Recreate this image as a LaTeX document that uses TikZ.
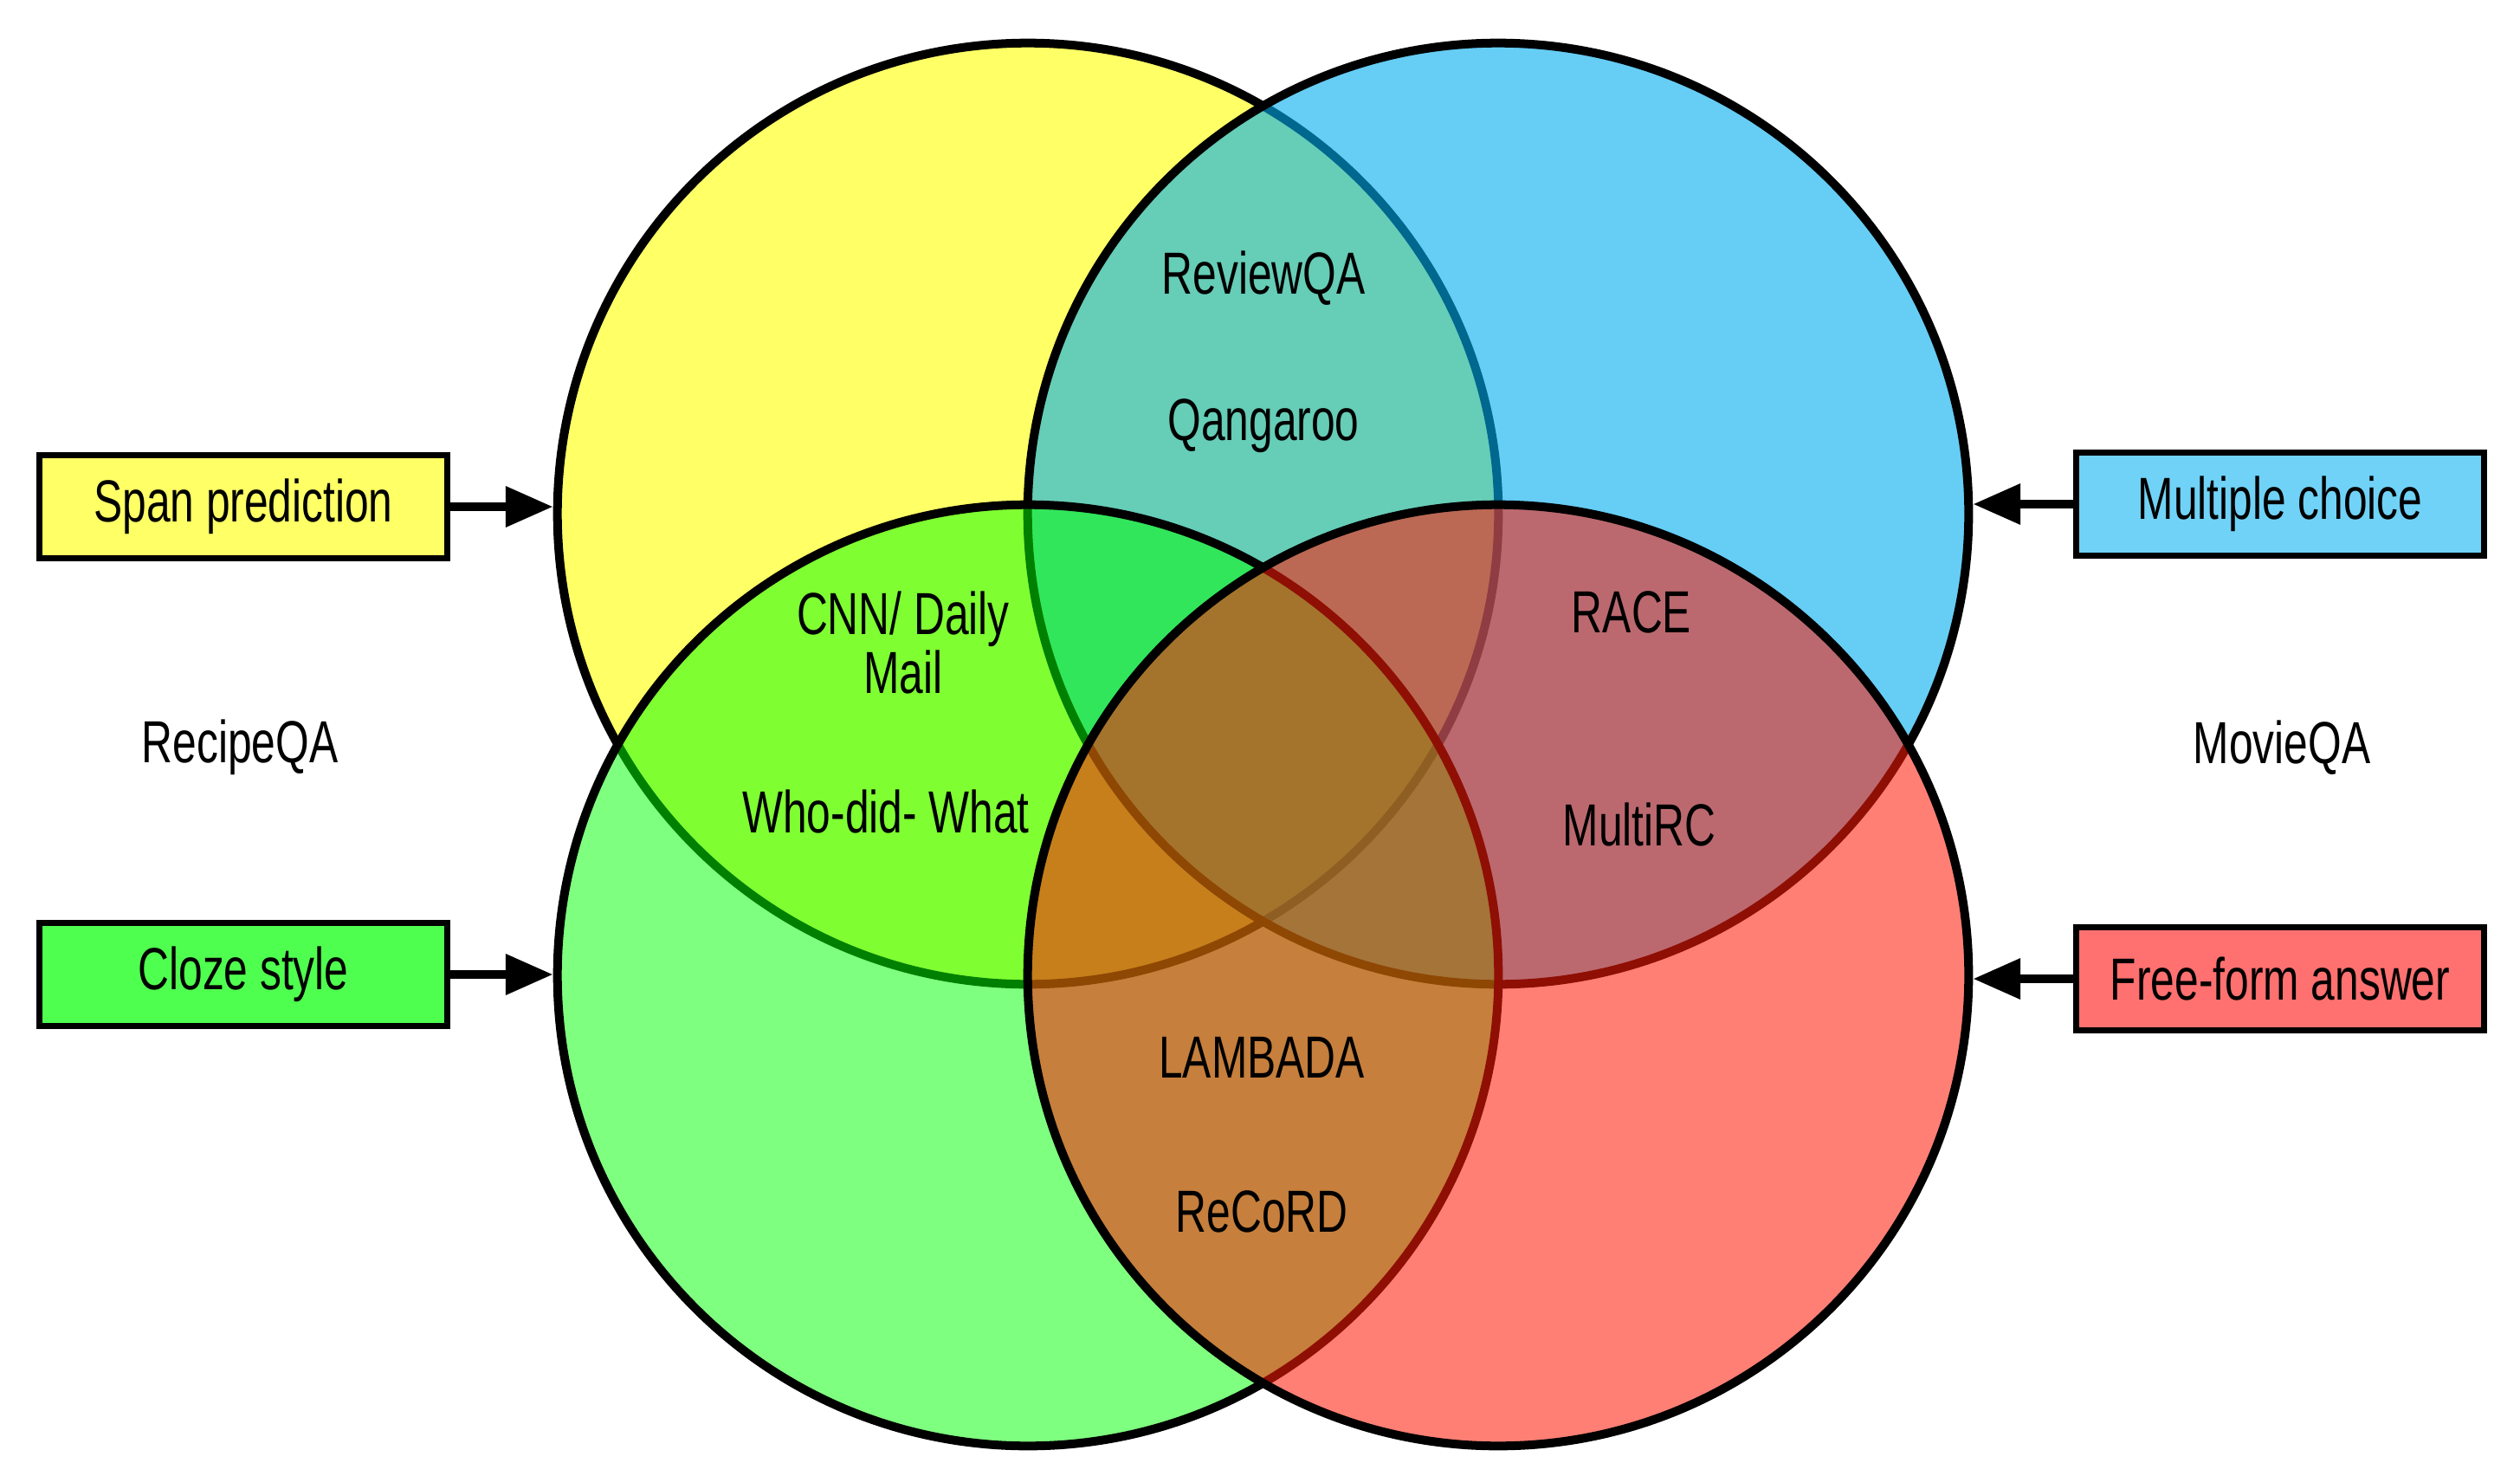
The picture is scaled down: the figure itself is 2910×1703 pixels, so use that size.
\documentclass[tikz,border=0pt]{standalone}
\usepackage{fontspec}
\setmainfont{Liberation Sans}[FakeStretch=0.725]
\usetikzlibrary{arrows.meta}
\definecolor{cY}{RGB}{255,255,0}
\definecolor{cB}{RGB}{0,173,238}
\definecolor{cG}{RGB}{0,255,0}
\definecolor{cR}{RGB}{255,28,8}
\definecolor{bY}{RGB}{255,255,102}
\definecolor{bB}{RGB}{112,210,246}
\definecolor{bG}{RGB}{79,255,79}
\definecolor{bR}{RGB}{255,112,112}
\tikzset{
  venn/.style={circle, draw=black, line width=2.85pt, minimum size=10.86cm, inner sep=0pt},
  catbox/.style={rectangle, draw=black, line width=2pt, minimum width=4.7cm, minimum height=1.19cm, inner sep=0pt, font=\fontsize{19.5pt}{23pt}\selectfont},
  lbl/.style={inner sep=0pt, align=center, font=\fontsize{19.5pt}{17pt}\selectfont},
  arr/.style={line width=2.85pt, -{Triangle[length=15.6pt, width=12.8pt]}}
}
\begin{document}
\begin{tikzpicture}[x=0.01cm, y=-0.01cm]
\useasboundingbox (0,0) rectangle (2910,1703);
\fill[white] (0,0) rectangle (2910,1703);
% circles
\node[venn, fill=cY, fill opacity=0.6] (Y) at (1187,593) {};
\node[venn, fill=cB, fill opacity=0.6] (B) at (1730,593) {};
\node[venn, fill=cG, fill opacity=0.5] (G) at (1187,1126) {};
\node[venn, fill=cR, fill opacity=0.56] (R) at (1730,1126) {};
% category boxes
\node[catbox, fill=bY] (span) at (281,585) {Span prediction};
\node[catbox, fill=bG] (cloze) at (281,1125) {Cloze style};
\node[catbox, fill=bB] (mc) at (2633,582) {Multiple choice};
\node[catbox, fill=bR] (free) at (2633,1130) {Free-form answer};
% arrows
\draw[arr] (span.east) -- (span.east -| Y.west);
\draw[arr] (cloze.east) -- (cloze.east -| G.west);
\draw[arr] (mc.west) -- (mc.west -| B.east);
\draw[arr] (free.west) -- (free.west -| R.east);
% dataset labels
\node[lbl] (reviewqa) at (1459,321) {ReviewQA};
\node[lbl] (qangaroo) at (1459,492) {Qangaroo};
\node[lbl] (cnn) at (1043,742) {CNN/ Daily\\Mail};
\node[lbl] (whodid) at (1023,937) {Who-did- What};
\node[lbl] (race) at (1884,707) {RACE};
\node[lbl] (multirc) at (1893,952) {MultiRC};
\node[lbl] (lambada) at (1457,1221) {LAMBADA};
\node[lbl] (record) at (1457,1399) {ReCoRD};
\node[lbl] (recipeqa) at (277,863) {RecipeQA};
\node[lbl] (movieqa) at (2635,863) {MovieQA};
\end{tikzpicture}
\end{document}
